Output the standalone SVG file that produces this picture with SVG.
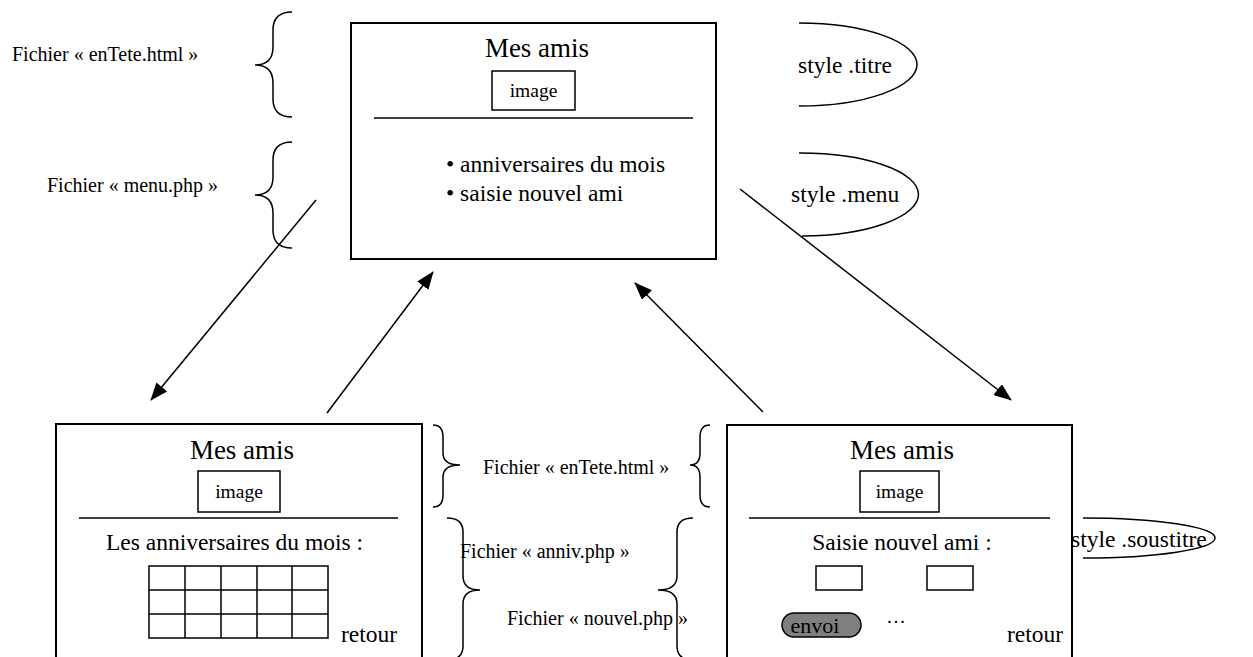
<svg xmlns="http://www.w3.org/2000/svg" width="1253" height="657" viewBox="0 0 1253 657">
<style>
text{font-family:"Liberation Serif","Times New Roman",serif;fill:#000}
.box{fill:#fff;stroke:#000;stroke-width:2}
.thin{fill:none;stroke:#000;stroke-width:1.5}
.br{fill:none;stroke:#000;stroke-width:1.5}
.arr{fill:none;stroke:#000;stroke-width:1.5;marker-end:url(#ah)}
.t27{font-size:27px}
.t23{font-size:23.5px}
.t19{font-size:19.5px}
.f20{font-size:20px}
</style>
<defs>
<marker id="ah" markerUnits="userSpaceOnUse" markerWidth="18" markerHeight="14" refX="17" refY="7" orient="auto">
<path d="M0,0 L18,7 L0,14 Z" fill="#000"/>
</marker>
</defs>
<rect width="1253" height="657" fill="#fff"/>

<g id="labels-left">
<text class="f20" x="12" y="61">Fichier « enTete.html »</text>
<text class="f20" x="47" y="192">Fichier « menu.php »</text>
<path class="br" d="M292,12 Q273,12 273,30 L273,47 Q273,65 255,65 Q273,65 273,83 L273,99 Q273,117 292,117"/>
<path class="br" d="M292,142 Q273,142 273,160 L273,177 Q273,195 255,195 Q273,195 273,213 L273,230 Q273,248 292,248"/>
</g>

<g id="connectors">
<line class="arr" x1="316" y1="200" x2="151" y2="400"/>
<line class="arr" x1="327" y1="413" x2="433" y2="272"/>
<line class="arr" x1="763" y1="412" x2="635" y2="283"/>
<line class="arr" x1="740" y1="189" x2="1011" y2="400"/>
</g>

<g id="page-main">
<rect class="box" x="351" y="23" width="365" height="236"/>
<text class="t27" x="537" y="57" text-anchor="middle">Mes amis</text>
<rect class="thin" x="492" y="71" width="83" height="39"/>
<text class="t19" x="533.5" y="97" text-anchor="middle">image</text>
<line class="thin" x1="374" y1="118" x2="693" y2="118"/>
<text class="t23" x="446" y="172">• anniversaires du mois</text>
<text class="t23" x="446" y="201">• saisie nouvel ami</text>
</g>

<g id="style-titre">
<path class="thin" d="M799,23 A118,41.5 0 0 1 799,106"/>
<text class="t23" x="798" y="73">style .titre</text>
</g>

<g id="style-menu">
<path class="thin" d="M799,153 A118,41.5 0 0 1 802,236"/>
<text class="t23" x="791" y="202">style .menu</text>
</g>

<g id="page-anniv">
<rect class="box" x="56" y="424" width="366" height="240"/>
<text class="t27" x="242" y="459" text-anchor="middle">Mes amis</text>
<rect class="thin" x="198" y="471" width="82" height="41"/>
<text class="t19" x="239" y="498" text-anchor="middle">image</text>
<line class="thin" x1="79" y1="518" x2="398" y2="518"/>
<text class="t23" x="234.5" y="550" text-anchor="middle">Les anniversaires du mois :</text>
<g class="thin">
<rect x="149" y="566" width="179" height="72"/>
<line x1="149" y1="590" x2="328" y2="590"/>
<line x1="149" y1="614" x2="328" y2="614"/>
<line x1="185" y1="566" x2="185" y2="638"/>
<line x1="221" y1="566" x2="221" y2="638"/>
<line x1="257" y1="566" x2="257" y2="638"/>
<line x1="292" y1="566" x2="292" y2="638"/>
</g>
<text class="t23" x="341" y="642">retour</text>
</g>

<g id="labels-middle">
<path class="br" d="M433,425 Q443,425 443,437 L443,453 Q443,465 460,465 Q443,465 443,477 L443,495 Q443,507 433,507"/>
<text class="f20" x="483" y="474">Fichier « enTete.html »</text>
<path class="br" d="M710,425 Q700,425 700,437 L700,453 Q700,465 690,465 Q700,465 700,477 L700,495 Q700,507 710,507"/>
<path class="br" d="M447,518 Q463,518 463,532 L463,576 Q463,590 480,590 Q463,590 463,604 L463,646 Q463,660 447,660"/>
<text class="f20" x="460" y="558">Fichier « anniv.php »</text>
<path class="br" d="M693,518 Q677,518 677,532 L677,576 Q677,590 658,590 Q677,590 677,604 L677,646 Q677,660 693,660"/>
<text class="f20" x="507" y="625">Fichier « nouvel.php »</text>
</g>

<g id="page-nouvel">
<rect class="box" x="727" y="425" width="345" height="240"/>
<text class="t27" x="902" y="459" text-anchor="middle">Mes amis</text>
<rect class="thin" x="860" y="471" width="79" height="41"/>
<text class="t19" x="899.5" y="498" text-anchor="middle">image</text>
<line class="thin" x1="749" y1="518" x2="1050" y2="518"/>
<text class="t23" x="902" y="550" text-anchor="middle">Saisie nouvel ami :</text>
<rect class="thin" x="816" y="566" width="46" height="24"/>
<rect class="thin" x="927" y="566" width="46" height="24"/>
<rect x="782" y="613" width="79" height="24" rx="12" ry="12" fill="#7f7f7f" stroke="#000" stroke-width="1.5"/>
<text x="815" y="632.5" text-anchor="middle" style="font-size:22px">envoi</text>
<text class="t19" x="896" y="623" text-anchor="middle">…</text>
<text class="t23" x="1007" y="642">retour</text>
</g>

<g id="style-soustitre">
<path class="thin" d="M1083,518 A132,20 0 0 1 1083,558"/>
<text class="t23" x="1071" y="547">style .soustitre</text>
</g>
</svg>
